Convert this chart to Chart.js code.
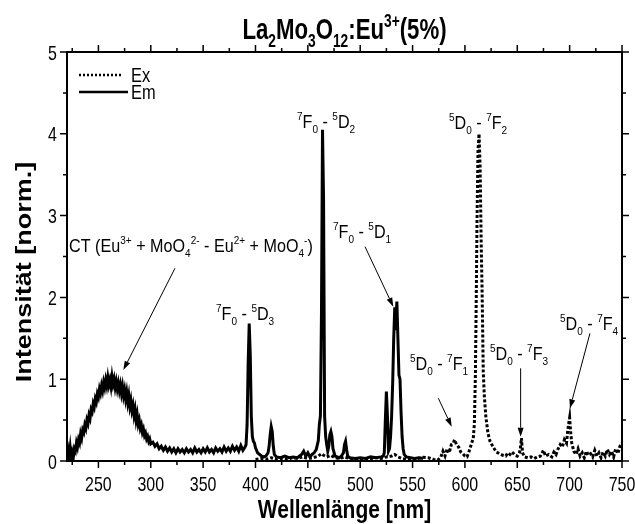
<!DOCTYPE html>
<html>
<head>
<meta charset="utf-8">
<script src="https://cdn.jsdelivr.net/npm/chart.js@4"></script>
<style>
  body { margin: 0; background: #fff; }
  #grafico { display: block; }
</style>
</head>
<body>
<canvas id="grafico" width="635" height="524"></canvas>
<script>
// Em: Anregung (durchgezogen)
var emNm = [220,221,222,223,224,225,226,227,228,229,230,231,232,233,234,235,236,237,238,239,
  240,241,242,243,244,245,246,247,248,249,250,251,252,253,254,255,256,257,258,259,
  260,261,262,263,264,265,266,267,268,269,270,271,272,273,274,275,276,277,278,279,
  280,281,282,283,284,285,286,287,288,289,290,291,292,293,294,295,296,297,298,299,
  300,302,304,306,308,310,312,314,316,318,320,322,324,326,328,330,332,334,336,338,
  340,342,344,346,348,350,352,354,356,358,360,362,364,366,368,370,372,374,376,378,
  380,382,384,386,388,390,391,392,393,394,395,396,397,398,399,400,402,404,406,408,
  410,412,413,414,415,416,417,418,420,424,428,432,436,440,444,446,448,450,452,454,
  456,458,460,461,462,463,464,465,466,467,468,469,470,471,472,473,474,476,478,480,
  482,484,485,486,487,488,490,495,500,505,510,515,520,522,523,524,525,526,527,528,
  529,530,531,532,533,534,535,536,537,538,539,540,541,542,544,548,552,556,560];
var emVal = [0.08,0.14,0.05,0.16,0.02,0.10,0.04,0.15,0.12,0.22,0.17,0.26,0.22,0.33,0.28,0.38,0.35,0.44,0.40,0.50,
  0.46,0.56,0.52,0.63,0.60,0.70,0.66,0.76,0.72,0.82,0.78,0.88,0.83,0.92,0.86,0.96,0.90,0.99,0.92,1.02,
  0.93,0.99,0.91,1.03,0.94,1.00,0.90,0.97,0.88,0.95,0.86,0.93,0.83,0.91,0.80,0.87,0.76,0.84,0.72,0.80,
  0.67,0.74,0.62,0.68,0.56,0.63,0.50,0.57,0.45,0.50,0.40,0.44,0.35,0.39,0.31,0.34,0.27,0.30,0.24,0.27,
  0.21,0.23,0.18,0.21,0.15,0.18,0.13,0.17,0.12,0.16,0.11,0.15,0.10,0.15,0.11,0.14,0.10,0.15,0.11,0.14,
  0.10,0.16,0.11,0.14,0.10,0.15,0.11,0.16,0.11,0.14,0.10,0.16,0.12,0.15,0.11,0.17,0.12,0.16,0.12,0.18,
  0.13,0.17,0.12,0.19,0.13,0.17,0.20,0.45,1.20,1.68,1.30,0.55,0.30,0.24,0.22,0.16,0.10,0.08,0.06,0.05,
  0.06,0.10,0.18,0.32,0.42,0.36,0.18,0.08,0.05,0.04,0.06,0.04,0.05,0.04,0.08,0.12,0.06,0.10,0.05,0.08,
  0.10,0.14,0.25,0.45,0.55,1.80,4.05,3.20,0.55,0.30,0.20,0.12,0.18,0.32,0.36,0.30,0.15,0.06,0.05,0.04,
  0.06,0.10,0.20,0.24,0.14,0.06,0.04,0.03,0.04,0.03,0.05,0.04,0.05,0.06,0.10,0.50,0.85,0.55,0.12,0.15,
  0.30,0.55,0.95,1.50,1.88,1.60,1.95,1.50,1.05,1.00,0.60,0.30,0.15,0.08,0.05,0.04,0.03,0.04,0.03];

// Ex: Emission (gepunktet)
var exNm = [400,405,410,415,420,425,430,435,440,445,450,455,460,463,465,468,472,476,480,485,
  490,495,500,505,510,515,520,525,530,533,536,540,545,550,555,560,565,570,574,577,
  579,581,583,585,587,589,590,592,594,596,598,600,602,604,606,608,609,610,611,611.5,
  612.5,613.5,614.5,615.5,616.5,617.5,618.5,620,622,624,627,630,633,636,639,641,643,645,648,650,
  652,653,654,655,657,660,663,666,669,672,675,677,680,683,685,687,689,691,693,695,
  697,698,699,700,701,702,704,706,708,710,712,714,716,718,720,722,724,726,728,730,
  732,734,736,738,740,742,744,746,748,750];
var exVal = [0.02,0.03,0.02,0.04,0.02,0.03,0.02,0.04,0.03,0.05,0.03,0.04,0.06,0.09,0.07,0.05,0.07,0.04,0.03,0.05,
  0.03,0.02,0.03,0.02,0.03,0.04,0.03,0.05,0.06,0.08,0.05,0.03,0.02,0.02,0.03,0.045,0.04,0.02,0.01,0.05,
  0.12,0.06,0.15,0.10,0.20,0.22,0.26,0.20,0.17,0.11,0.09,0.06,0.05,0.12,0.20,0.28,0.45,1.05,2.20,2.90,
  3.80,4.00,3.60,2.70,2.00,1.10,0.80,0.54,0.34,0.24,0.17,0.11,0.09,0.07,0.06,0.10,0.08,0.11,0.07,0.06,
  0.10,0.16,0.28,0.10,0.05,0.04,0.05,0.03,0.05,0.06,0.13,0.06,0.08,0.05,0.11,0.08,0.15,0.20,0.17,0.26,
  0.22,0.35,0.45,0.53,0.35,0.22,0.12,0.08,0.15,0.06,0.10,0.04,0.12,0.07,0.09,0.05,0.13,0.06,0.10,0.04,
  0.11,0.06,0.14,0.08,0.12,0.05,0.15,0.09,0.18,0.22];

var xMajor = [250, 300, 350, 400, 450, 500, 550, 600, 650, 700, 750];
var xMinor = [225, 275, 325, 375, 425, 475, 525, 575, 625, 675, 725];
var yMajor = [0, 1, 2, 3, 4, 5];
var yMinor = [0.5, 1.5, 2.5, 3.5, 4.5];

var FAMILIA = '"Liberation Sans", Arial, Helvetica, sans-serif';

// Beschriftungen: Text, Position [nm, Wert], optional Pfeil von/nach
var notas = [
  { t: 'CT (Eu^{3+} + MoO_{4}^{2-} - Eu^{2+} + MoO_{4}^{-})', en: [222.0, 2.56],
    flecha: [[323.1, 2.356], [273.8, 1.112]] },
  { t: '^{7}F_{0} - ^{5}D_{3}', en: [362.3, 1.724] },
  { t: '^{7}F_{0} - ^{5}D_{2}', en: [439.6, 4.07] },
  { t: '^{7}F_{0} - ^{5}D_{1}', en: [474.0, 2.726],
    flecha: [[504.6, 2.62], [531.6, 1.886]] },
  { t: '^{5}D_{0} - ^{7}F_{2}', en: [584.8, 4.06] },
  { t: '^{5}D_{0} - ^{7}F_{1}', en: [547.5, 1.112],
    flecha: [[574.6, 0.767], [587.4, 0.419]] },
  { t: '^{5}D_{0} - ^{7}F_{3}', en: [623.9, 1.235],
    flecha: [[653.2, 1.133], [653.2, 0.297]] },
  { t: '^{5}D_{0} - ^{7}F_{4}', en: [690.8, 1.601],
    flecha: [[719.4, 1.561], [700.3, 0.644]] }
];

function partes(s) {
  var out = [];
  var re = /\^\{([^}]*)\}|_\{([^}]*)\}|([^\^_]+)/g, m;
  while ((m = re.exec(s)) !== null) {
    if (m[1] !== undefined) out.push({ t: m[1], sup: true });
    else if (m[2] !== undefined) out.push({ t: m[2], sub: true });
    else out.push({ t: m[3] });
  }
  return out;
}

function fuente(p, tam, peso) {
  var s = (p.sup || p.sub) ? tam * 0.62 : tam;
  return peso + ' ' + s.toFixed(1) + 'px ' + FAMILIA;
}

// Text mit Hoch-/Tiefstellung, horizontal gestaucht um sx
function texto(ctx, s, x, y, tam, peso, alinear, sx) {
  var ps = partes(s);
  var w = 0;
  ps.forEach(function (p) { ctx.font = fuente(p, tam, peso); w += ctx.measureText(p.t).width; });
  w *= sx;
  var x0 = alinear === 'center' ? x - w / 2 : (alinear === 'right' ? x - w : x);
  ctx.save();
  ctx.translate(x0, y);
  ctx.scale(sx, 1);
  ctx.textAlign = 'left';
  ctx.textBaseline = 'alphabetic';
  ctx.fillStyle = '#000';
  var cx = 0;
  ps.forEach(function (p) {
    ctx.font = fuente(p, tam, peso);
    var dy = p.sup ? -tam * 0.40 : (p.sub ? tam * 0.28 : 0);
    ctx.fillText(p.t, cx, dy);
    cx += ctx.measureText(p.t).width;
  });
  ctx.restore();
}

function flecha(ctx, x1, y1, x2, y2) {
  var a = Math.atan2(y2 - y1, x2 - x1), L = 9, W = 3;
  ctx.beginPath();
  ctx.moveTo(x1, y1);
  ctx.lineTo(x2 - L * Math.cos(a), y2 - L * Math.sin(a));
  ctx.lineWidth = 1;
  ctx.stroke();
  ctx.beginPath();
  ctx.moveTo(x2, y2);
  ctx.lineTo(x2 - L * Math.cos(a) + W * Math.sin(a), y2 - L * Math.sin(a) - W * Math.cos(a));
  ctx.lineTo(x2 - L * Math.cos(a) - W * Math.sin(a), y2 - L * Math.sin(a) + W * Math.cos(a));
  ctx.closePath();
  ctx.fill();
}

var marco = {
  id: 'marco',
  afterDraw: function (chart) {
    var ctx = chart.ctx, a = chart.chartArea;
    var sx = chart.scales.x, sy = chart.scales.y;
    ctx.save();
    ctx.strokeStyle = '#000';
    ctx.fillStyle = '#000';
    ctx.setLineDash([]);

    // Rahmen
    ctx.lineWidth = 2;
    ctx.strokeRect(a.left, a.top, a.right - a.left, a.bottom - a.top);

    // Striche nach aussen, alle vier Seiten
    ctx.lineWidth = 1.5;
    ctx.beginPath();
    xMajor.forEach(function (v) {
      var x = sx.getPixelForValue(v);
      ctx.moveTo(x, a.bottom); ctx.lineTo(x, a.bottom + 7);
      ctx.moveTo(x, a.top); ctx.lineTo(x, a.top - 7);
    });
    xMinor.forEach(function (v) {
      var x = sx.getPixelForValue(v);
      ctx.moveTo(x, a.bottom); ctx.lineTo(x, a.bottom + 4);
      ctx.moveTo(x, a.top); ctx.lineTo(x, a.top - 4);
    });
    yMajor.forEach(function (v) {
      var y = sy.getPixelForValue(v);
      ctx.moveTo(a.left, y); ctx.lineTo(a.left - 7, y);
      ctx.moveTo(a.right, y); ctx.lineTo(a.right + 7, y);
    });
    yMinor.forEach(function (v) {
      var y = sy.getPixelForValue(v);
      ctx.moveTo(a.left, y); ctx.lineTo(a.left - 4, y);
      ctx.moveTo(a.right, y); ctx.lineTo(a.right + 4, y);
    });
    ctx.stroke();

    // Achsenbeschriftung
    xMajor.forEach(function (v) {
      texto(ctx, String(v), sx.getPixelForValue(v), a.bottom + 30, 21, 'normal', 'center', 0.76);
    });
    yMajor.forEach(function (v) {
      texto(ctx, String(v), a.left - 10, sy.getPixelForValue(v) + 7.5, 21, 'normal', 'right', 0.76);
    });
    texto(ctx, 'Wellenlänge [nm]', (a.left + a.right) / 2, 518, 25, 'bold', 'center', 0.84);
    ctx.save();
    ctx.translate(31, 272);
    ctx.rotate(-Math.PI / 2);
    ctx.scale(1, 0.8);
    texto(ctx, 'Intensität [norm.]', 0, 0, 27, 'bold', 'center', 1);
    ctx.restore();

    // Titel
    texto(ctx, 'La_{2}Mo_{3}O_{12}:Eu^{3+}(5%)', (a.left + a.right) / 2, 39, 30, 'bold', 'center', 0.74);

    // Legende
    ctx.lineWidth = 2.5;
    ctx.setLineDash([2, 2]);
    ctx.beginPath(); ctx.moveTo(79, 75); ctx.lineTo(123, 75); ctx.stroke();
    ctx.setLineDash([]);
    ctx.beginPath(); ctx.moveTo(79, 92); ctx.lineTo(128, 92); ctx.stroke();
    texto(ctx, 'Ex', 131, 82, 20, 'normal', 'left', 0.82);
    texto(ctx, 'Em', 131, 99, 20, 'normal', 'left', 0.82);

    // Bandenzuordnung
    notas.forEach(function (n) {
      texto(ctx, n.t, sx.getPixelForValue(n.en[0]), sy.getPixelForValue(n.en[1]), 19, 'normal', 'left', 0.85);
      if (n.flecha) {
        flecha(ctx,
          sx.getPixelForValue(n.flecha[0][0]), sy.getPixelForValue(n.flecha[0][1]),
          sx.getPixelForValue(n.flecha[1][0]), sy.getPixelForValue(n.flecha[1][1]));
      }
    });
    ctx.restore();
  }
};

function puntos(xs, ys) {
  return xs.map(function (x, i) { return { x: x, y: ys[i] }; });
}

var ctx = document.getElementById('grafico');
var grafico = new Chart(ctx, {
  type: 'line',
  data: {
    datasets: [{
      label: 'Ex',
      data: puntos(exNm, exVal),
      borderColor: '#000',
      borderWidth: 3,
      borderDash: [3, 2],
      pointRadius: 0,
      tension: 0
    }, {
      label: 'Em',
      data: puntos(emNm, emVal),
      borderColor: '#000',
      borderWidth: 3,
      pointRadius: 0,
      tension: 0
    }]
  },
  options: {
    responsive: false,
    animation: false,
    layout: { padding: { left: 67, right: 13, top: 52, bottom: 63 } },
    plugins: { legend: { display: false }, tooltip: { enabled: false } },
    scales: {
      x: { type: 'linear', min: 220, max: 750, display: false },
      y: { type: 'linear', min: 0, max: 5, display: false }
    }
  },
  plugins: [marco]
});
</script>
</body>
</html>
